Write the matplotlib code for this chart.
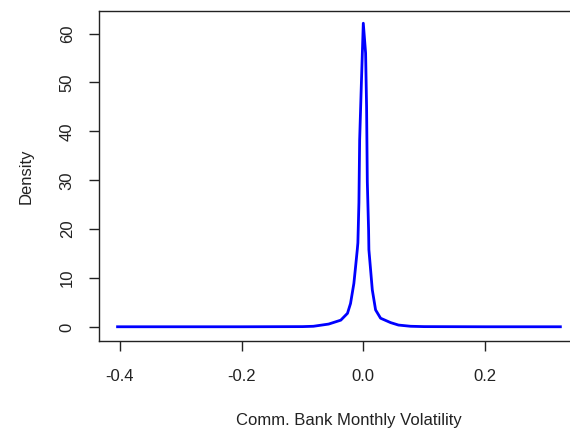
import matplotlib
matplotlib.use('Agg')
import matplotlib.pyplot as plt

# density estimate
vol = [-0.404, -0.3, -0.2, -0.1, -0.082, -0.057, -0.037, -0.026, -0.021, -0.0155,
       -0.0127, -0.0099, -0.0089, -0.0072, -0.006, -0.0033, 0.0, 0.0038, 0.0054,
       0.0066, 0.0087, 0.0092, 0.012, 0.0148, 0.0202, 0.0284, 0.0449, 0.0578,
       0.0778, 0.1, 0.2, 0.324]
dens = [0.05, 0.05, 0.05, 0.08, 0.15, 0.6, 1.4, 2.8, 4.8, 8.9,
        12.3, 15.8, 17.2, 25.4, 38.2, 49.2, 62.1, 56.0, 45.0,
        29.7, 19.8, 15.8, 11.7, 7.6, 3.5, 1.8, 0.9, 0.4,
        0.15, 0.08, 0.05, 0.05]
xticks = [-0.4, -0.2, 0.0, 0.2]
yticks = [0, 10, 20, 30, 40, 50, 60]

plt.rcParams['font.family'] = ['Liberation Sans', 'DejaVu Sans']

fig = plt.figure(figsize=(5.7, 4.32), dpi=100)
# box runs past the right edge of the picture, as in the reference
ax = fig.add_axes([99/570, 91/432, 500/570, 330/432])
ax.plot(vol, dens, color='blue', lw=2)

ax.set_xlim(-0.4345, 0.3875)
ax.set_ylim(-2.86, 64.6)
ax.set_xticks(xticks)
ax.set_xticklabels(['%.1f' % t for t in xticks])
ax.set_yticks(yticks)
ax.tick_params(axis='both', direction='out', length=7.5, width=1, labelsize=12, colors='#222222')
ax.tick_params(axis='x', pad=12.5)
ax.tick_params(axis='y', pad=10)
for lab in ax.get_yticklabels():
    lab.set_rotation(90)
    lab.set_va('center')
for s in ax.spines.values():
    s.set_linewidth(1)
    s.set_color('#222222')
ax.spines['right'].set_visible(False)

ax.set_xlabel('Comm. Bank Monthly Volatility', fontsize=12, labelpad=21, color='#222222')
ax.set_ylabel('Density', fontsize=12, labelpad=19, color='#222222')

fig.savefig('out.png', dpi=100)
